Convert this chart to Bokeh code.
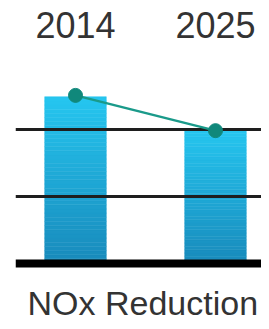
from bokeh.plotting import figure
from bokeh.models import Range1d, FixedTicker, Title
from bokeh.embed import file_html
from bokeh.resources import INLINE

years = ["2014", "2025"]
bar_values = [2.5, 2.0]
line_values = [2.52, 1.99]
grid_values = [1, 2]
axis_title = "NOx Reduction"

top_color = (0x26, 0xc6, 0xf0)
bottom_color = (0x18, 0x8a, 0xbb)
n_bands = 40

x = list(range(len(years)))

p = figure(width=261, height=321, output_backend="svg", toolbar_location=None,
           x_range=Range1d(-0.4286, 1.3286), y_range=Range1d(-0.278, 3.195),
           x_axis_location="above", y_axis_location=None,
           min_border_left=15, min_border_right=0, min_border_top=50, min_border_bottom=0)
p.outline_line_color = None
p.xgrid.visible = False
p.ygrid.visible = False
p.background_fill_color = "white"
p.border_fill_color = "white"

ax = p.xaxis[0]
ax.ticker = FixedTicker(ticks=x)
ax.major_label_overrides = {i: y for i, y in zip(x, years)}
ax.axis_line_color = None
ax.major_tick_line_color = None
ax.minor_tick_line_color = None
ax.major_tick_out = 0
ax.major_tick_in = 0
ax.major_label_standoff = 13
ax.major_label_text_font = "Liberation Sans"
ax.major_label_text_font_size = "36px"
ax.major_label_text_color = "#333333"

def mix(t):
    return "#%02x%02x%02x" % tuple(int(round(b + (a - b) * t)) for a, b in zip(top_color, bottom_color))

bx, bb, bt, bc = [], [], [], []
for xi, v in zip(x, bar_values):
    for k in range(n_bands):
        bx.append(xi)
        bb.append(v * k / n_bands)
        bt.append(v * (k + 1) / n_bands)
        bc.append(mix((k + 0.5) / n_bands))
p.vbar(x=bx, bottom=bb, top=bt, width=0.44, fill_color=bc, line_color=bc, line_width=0.5)

p.hspan(y=grid_values, line_width=3, line_color="#1e1e1e")
p.hspan(y=[0], line_width=8, line_color="#000000")

p.line(x, line_values, line_color="#1a9a8a", line_width=2.5)
p.scatter(x, line_values, size=14, fill_color="#10887b", line_color="#10887b")

t = Title(text=axis_title, align="left", offset=12, text_font="Liberation Sans",
          text_font_size="34px", text_font_style="normal", text_color="#333333",
          standoff=0)
p.add_layout(t, "below")

open("out.html", "w").write(file_html(p, INLINE))
